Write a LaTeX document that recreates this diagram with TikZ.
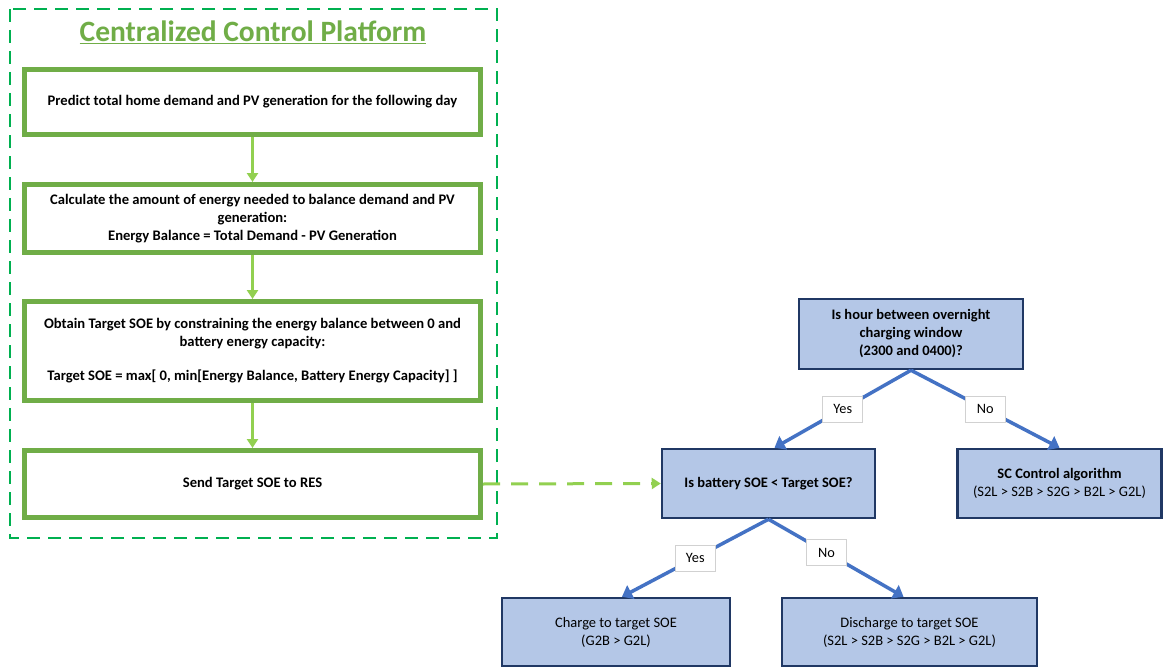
\documentclass[tikz,border=0pt]{standalone}
\usepackage{fontspec}
\setmainfont{Carlito}
\usetikzlibrary{arrows.meta,positioning}
\definecolor{platgreen}{HTML}{00B050}
\definecolor{boxgreen}{HTML}{70AD47}
\definecolor{arrowgreen}{HTML}{92D050}
\definecolor{decfill}{HTML}{B4C7E7}
\definecolor{decedge}{HTML}{203864}
\definecolor{flowblue}{HTML}{4472C4}
\tikzset{
  stepbox/.style={draw=boxgreen, line width=5pt, fill=white, align=center,
    font=\fontsize{14.6}{18}\selectfont\bfseries, inner sep=2pt},
  decbox/.style={draw=decedge, line width=2.5pt, fill=decfill, align=center,
    font=\fontsize{14.5}{18}\selectfont, inner sep=2pt},
  greenflow/.style={draw=arrowgreen, line width=2.5pt,
    -{Triangle[length=9pt,width=11pt]}},
  blueflow/.style={draw=flowblue, line width=3.5pt,
    -{Triangle[length=10pt,width=15pt]}},
  answer/.style={draw=black!18, line width=0.6pt, fill=white,
    font=\fontsize{14.3}{16}\selectfont, minimum width=40pt, minimum height=26pt,
    inner sep=2pt}
}
\begin{document}
\begin{tikzpicture}[x=1pt,y=-1pt]
\useasboundingbox (0,0) rectangle (1163,669);
\fill[white] (0,0) rectangle (1163,669);

% platform frame
\draw[platgreen, line width=2.5pt, dash pattern=on 13pt off 8pt]
  (10,9) rectangle (497,538);
\node[text=boxgreen, font=\fontsize{29.5}{32}\selectfont\bfseries] (title) at (253,32)
  {\underline{Centralized Control Platform}};

% platform steps
\node[stepbox, minimum width=456pt, minimum height=65pt] (s1) at (252.5,102)
  {Predict total home demand and PV generation for the following day};
\node[stepbox, minimum width=456pt, minimum height=68pt] (s2) at (252.5,218.5)
  {Calculate the amount of energy needed to balance demand and PV\\
   generation:\\ Energy Balance = Total Demand - PV Generation};
\node[stepbox, minimum width=456pt, minimum height=99pt] (s3) at (252.5,351)
  {Obtain Target SOE by constraining the energy balance between 0 and\\
   battery energy capacity:\\[16pt]
   Target SOE = max[ 0, min[Energy Balance, Battery Energy Capacity] ]};
\node[stepbox, minimum width=456pt, minimum height=67pt] (s4) at (252.5,484)
  {Send Target SOE to RES};

\draw[greenflow] (s1.south) -- (s2.north);
\draw[greenflow] (s2.south) -- (s3.north);
\draw[greenflow] (s3.south) -- (s4.north);

% decision tree
\node[decbox, font=\fontsize{14.5}{18}\selectfont\bfseries,
  minimum width=224pt, minimum height=70pt] (qa) at (911,334)
  {Is hour between overnight\\ charging window\\ (2300 and 0400)?};
\node[decbox, font=\fontsize{14.5}{18}\selectfont\bfseries,
  minimum width=213pt, minimum height=69pt] (qb) at (768.5,483.5)
  {Is battery SOE < Target SOE?};
\node[decbox, minimum width=204pt, minimum height=69pt] (sc) at (1059.5,483.5)
  {\textbf{SC Control algorithm}\\ (S2L > S2B > S2G > B2L > G2L)};
\node[decbox, minimum width=228pt, minimum height=68pt] (ch) at (616,632)
  {Charge to target SOE\\ (G2B > G2L)};
\node[decbox, minimum width=255pt, minimum height=68pt] (dc) at (909.5,632)
  {Discharge to target SOE\\ (S2L > S2B > S2G > B2L > G2L)};

\draw[greenflow, line width=3pt, dash pattern=on 17pt off 11pt] (s4.east) -- (qb.west);

\draw[blueflow] (qa.south) -- node[answer] (ya) {Yes} ([xshift=6pt]qb.north);
\draw[blueflow] (qa.south) -- node[answer] (na) {No} (sc.north);
\draw[blueflow] (qb.south) -- node[answer] (yb) {Yes} ([xshift=6pt]ch.north);
\draw[blueflow] (qb.south) -- node[answer, pos=0.43] (nb) {No} ([xshift=-6pt]dc.north);
\end{tikzpicture}
\end{document}
